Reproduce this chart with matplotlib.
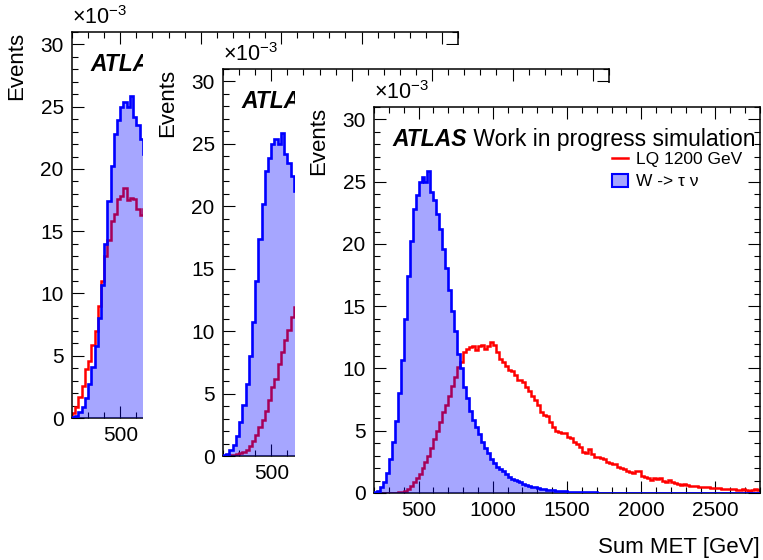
import numpy as np
import matplotlib
matplotlib.use("Agg")
import matplotlib.pyplot as plt
from matplotlib.patches import Rectangle, Patch
from matplotlib.lines import Line2D
from matplotlib.ticker import MultipleLocator, FuncFormatter

plt.rcParams['font.family'] = ['Liberation Sans', 'DejaVu Sans']
plt.rcParams['mathtext.default'] = 'regular'

# Sum MET histograms, 20 GeV bins starting at 200 GeV (units of 1e-3 events)
bin_start = 200
bin_width = 20

w_tau_nu = [
    0.05, 0.2, 0.45, 0.85, 1.6, 2.7, 4.1, 5.8, 8.0, 10.7,
    14.0, 17.4, 20.2, 22.8, 23.9, 25.0, 25.4, 25.0, 25.9, 24.2,
    23.5, 22.4, 21.2, 19.6, 18.1, 16.3, 14.6, 13.0, 11.2, 10.0,
    8.5, 7.6, 6.6, 5.9, 5.3, 4.7, 4.1, 3.6, 3.2, 2.7,
    2.4, 2.1, 1.9, 1.8, 1.55, 1.25, 1.15, 1.05, 0.95, 0.85,
    0.75, 0.65, 0.58, 0.52, 0.45, 0.4, 0.35, 0.31, 0.28, 0.24,
    0.21, 0.19, 0.17, 0.15, 0.13, 0.12, 0.11, 0.1, 0.09, 0.08,
    0.07, 0.06, 0.06, 0.05, 0.05, 0.04, 0.04, 0.04, 0.03, 0.03,
    0.03, 0.03, 0.02, 0.02, 0.02, 0.02, 0.02, 0.02, 0.01, 0.01,
    0.01, 0.01, 0.01, 0.01, 0.01, 0.01, 0.01, 0.01, 0.01, 0.01,
    0.01, 0.01, 0.01, 0.0, 0.01, 0.0, 0.0, 0.01, 0.0, 0.0,
    0.0, 0.0, 0.0, 0.0, 0.0, 0.0, 0.0, 0.0, 0.0, 0.0,
    0.0, 0.0, 0.0, 0.0, 0.0, 0.0, 0.0, 0.0, 0.0, 0.0,
]

lq_1200 = [
    0.0, 0.0, 0.0, 0.0, 0.0, 0.01, 0.02, 0.03, 0.05, 0.1,
    0.2, 0.35, 0.6, 0.85, 1.2, 1.55, 2.0, 2.5, 3.0, 3.6,
    4.3, 5.0, 5.7, 6.5, 7.1, 7.8, 8.6, 9.3, 10.1, 10.5,
    11.3, 11.6, 11.7, 11.8, 11.5, 11.8, 11.9, 11.6, 11.8, 12.1,
    11.9, 11.3, 10.8, 10.5, 10.2, 9.9, 9.8, 9.5, 9.1, 9.1,
    8.9, 8.5, 8.2, 7.8, 7.5, 7.1, 6.5, 6.3, 6.2, 5.7,
    5.3, 5.0, 4.9, 4.8, 4.8, 4.5, 4.4, 4.1, 3.9, 3.7,
    3.3, 3.2, 3.5, 3.1, 2.9, 2.9, 2.8, 2.7, 2.5, 2.4,
    2.3, 2.3, 2.1, 2.0, 1.95, 1.8, 1.7, 1.6, 1.75, 1.8,
    1.35, 1.3, 1.2, 1.05, 1.2, 1.15, 1.2, 1.0, 0.9, 1.05,
    0.85, 0.8, 0.7, 0.65, 0.73, 0.65, 0.6, 0.58, 0.55, 0.5,
    0.5, 0.5, 0.45, 0.42, 0.38, 0.38, 0.37, 0.33, 0.32, 0.3,
    0.3, 0.3, 0.26, 0.24, 0.32, 0.25, 0.19, 0.25, 0.3, 0.25,
]

# signal shapes of the two earlier canvases (first bins only)
lq_first = [
    0.4, 0.9, 1.7, 2.6, 3.9, 4.6, 5.9, 7.0, 9.0, 11.0,
    13.0, 14.3, 15.8, 16.4, 17.6, 17.8, 18.5, 17.5, 17.7, 17.6,
    16.8, 16.3, 16.8,
]
lq_second = [
    0.0, 0.02, 0.05, 0.1, 0.15, 0.25, 0.35, 0.5, 0.8, 1.2,
    1.7, 2.3, 2.9, 3.6, 4.5, 5.5, 6.2, 7.4, 8.3, 9.3,
    10.1, 11.1, 11.9,
]

edges = bin_start + bin_width * np.arange(len(w_tau_nu) + 1)

W, H = 763, 560
fig = plt.figure(figsize=(W / 100, H / 100), dpi=100)

fill_col = (0, 0, 1, 0.35)


def px_rect(left, top, right, bottom):
    return [left / W, 1 - bottom / H, (right - left) / W, (bottom - top) / H]


def draw_panel(rect, lq_vals, xmax, z, full=True):
    ax = fig.add_axes(rect)
    ax.set_zorder(z)
    n = len(lq_vals)
    ax.stairs(lq_vals, edges[:n + 1], color='red', lw=1.8, zorder=2)
    ax.stairs(w_tau_nu, edges, fill=True, color=fill_col, lw=0, zorder=3)
    ax.stairs(w_tau_nu, edges, color='blue', lw=1.9, zorder=4)

    ax.set_xlim(200, xmax)
    ax.set_ylim(0, 31)
    ax.xaxis.set_major_locator(MultipleLocator(500))
    ax.xaxis.set_minor_locator(MultipleLocator(100))
    ax.yaxis.set_major_locator(MultipleLocator(5))
    ax.yaxis.set_minor_locator(MultipleLocator(1))
    if not full:
        # the later canvas hides everything past the first label
        ax.xaxis.set_major_formatter(
            FuncFormatter(lambda v, p: f'{v:g}' if v < 700 else ''))
    ax.tick_params(which='both', direction='in', top=True, right=True,
                   width=0.8, labelsize=15)
    ax.tick_params(which='major', length=8.5, pad=6)
    ax.tick_params(which='minor', length=4.3)
    for sp in ax.spines.values():
        sp.set_linewidth(1.1)

    ax.text(0.0, 1.008, r'$\times10^{-3}$', transform=ax.transAxes,
            ha='left', va='bottom', fontsize=15.5)
    ax.text(-0.143, 1.0, 'Events', transform=ax.transAxes, rotation=90,
            ha='center', va='top', fontsize=16)
    t = ax.text(0.049, 0.899, 'ATLAS', transform=ax.transAxes,
                fontsize=16.5, fontweight='bold', fontstyle='italic',
                va='baseline', ha='left')
    if full:
        ax.annotate(' Work in progress simulation', xy=(1, 0), xycoords=t,
                    va='bottom', ha='left', fontsize=16.5)
    return ax


def cover(left, top, z):
    r = Rectangle((left / W, 0), 1 - left / W, 1 - top / H,
                  transform=fig.transFigure, facecolor='white',
                  edgecolor='none', zorder=z)
    fig.add_artist(r)


ax1 = draw_panel(px_rect(72, 32, 458, 418), lq_first, 2600, 1, full=False)
cover(143, 45, 2)
ax2 = draw_panel(px_rect(223, 69, 609, 456), lq_second, 2600, 3, full=False)
cover(295, 83, 4)
ax3 = draw_panel(px_rect(374, 107, 760, 493), lq_1200, 2800, 5)

ax3.text(1.0, -0.142, 'Sum MET [GeV]', transform=ax3.transAxes,
         ha='right', va='center', fontsize=16)

handles = [Line2D([], [], color='red', lw=1.8),
           Patch(facecolor=fill_col, edgecolor='blue', lw=1.5)]
ax3.legend(handles, ['LQ 1200 GeV', 'W -> \u03c4 \u03bd'], loc='upper left',
           bbox_to_anchor=(0.617, 0.884), frameon=False, fontsize=12.5,
           handlelength=0.9, handleheight=0.8, handletextpad=0.45,
           labelspacing=0.35, borderpad=0, borderaxespad=0)

fig.savefig('out.png', dpi=100)
